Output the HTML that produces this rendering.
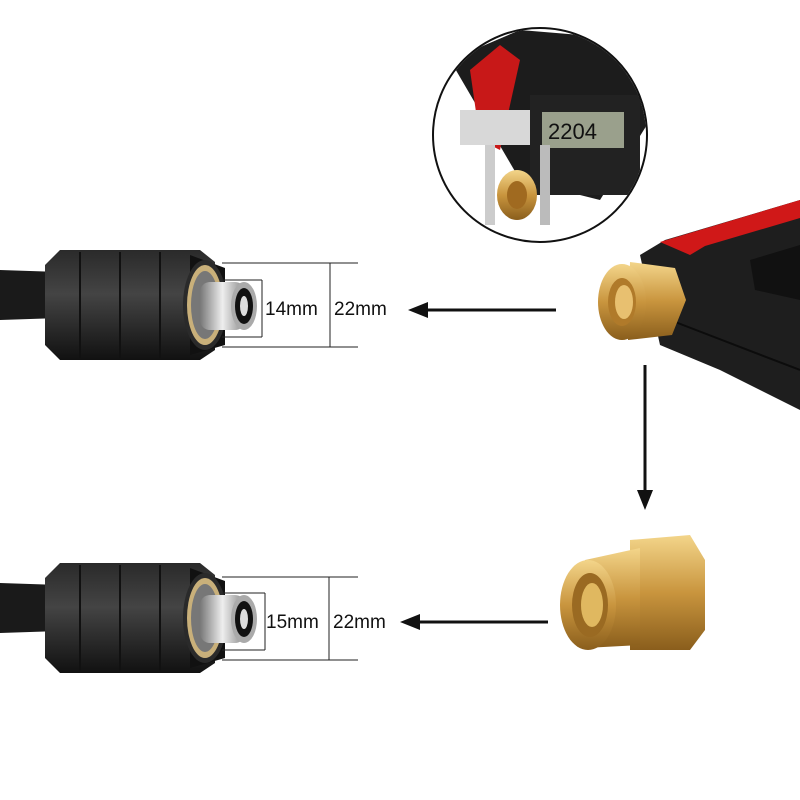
<!DOCTYPE html>
<html><head><meta charset="utf-8"><style>
html,body{margin:0;padding:0;background:#fff;}
svg{display:block}
text{font-family:"Liberation Sans",sans-serif;font-size:19px;fill:#111}
</style></head><body>
<svg width="800" height="800" viewBox="0 0 800 800">
<defs>
<linearGradient id="brass" x1="0" y1="0" x2="0" y2="1">
<stop offset="0" stop-color="#f3d58a"/><stop offset="0.5" stop-color="#c9953e"/><stop offset="1" stop-color="#8a5e1c"/>
</linearGradient>
<linearGradient id="nut" x1="0" y1="0" x2="0" y2="1">
<stop offset="0" stop-color="#2a2a2a"/><stop offset="0.4" stop-color="#444"/><stop offset="1" stop-color="#111"/>
</linearGradient>
<linearGradient id="metal" x1="0" y1="0" x2="1" y2="0">
<stop offset="0" stop-color="#777"/><stop offset="0.5" stop-color="#eee"/><stop offset="1" stop-color="#888"/>
</linearGradient>
<clipPath id="cc"><circle cx="540" cy="135" r="106"/></clipPath>
</defs>

<!-- gun body right -->
<path d="M640 255 L665 240 L800 200 L800 410 L720 370 L660 345 L650 300 Z" fill="#1e1e1e"/>
<path d="M660 242 L800 200 L800 218 L705 246 L690 255 Z" fill="#d01818"/>
<path d="M750 260 L800 245 L800 300 L755 290 Z" fill="#111"/>
<line x1="670" y1="320" x2="800" y2="370" stroke="#0c0c0c" stroke-width="2"/>
<!-- brass fitting top -->
<path d="M630 262 L675 268 L686 300 L672 335 L628 340 Z" fill="url(#brass)"/>
<ellipse cx="622" cy="302" rx="24" ry="38" fill="url(#brass)"/>
<ellipse cx="622" cy="302" rx="14" ry="24" fill="#b07a2a"/>
<ellipse cx="624" cy="302" rx="9" ry="17" fill="#e8c070"/>

<!-- circle inset -->
<g clip-path="url(#cc)">
<rect x="430" y="25" width="220" height="220" fill="#fff"/>
<path d="M450 60 L520 30 L640 40 L650 120 L600 200 L520 180 Z" fill="#1c1c1c"/>
<path d="M470 70 L500 45 L520 60 L500 150 L480 140 Z" fill="#c81818"/>
<rect x="460" y="110" width="90" height="35" fill="#d8d8d8"/>
<rect x="530" y="95" width="110" height="100" fill="#222"/>
<rect x="542" y="112" width="82" height="36" fill="#9aa08c"/>
<text x="548" y="139" style="font-size:22px;fill:#111">2204</text>
<rect x="485" y="145" width="10" height="80" fill="#ccc"/>
<rect x="540" y="145" width="10" height="80" fill="#bbb"/>
<ellipse cx="517" cy="195" rx="20" ry="25" fill="url(#brass)"/>
<ellipse cx="517" cy="195" rx="10" ry="14" fill="#a06a20"/>
</g>
<circle cx="540" cy="135" r="107" fill="none" stroke="#111" stroke-width="2"/>

<!-- top hose -->
<path d="M0 270 L60 272 L60 318 L0 320 Z" fill="#1a1a1a"/>
<path d="M45 265 L60 250 L200 250 L215 262 L215 350 L200 360 L60 360 L45 345 Z" fill="url(#nut)"/>
<g stroke="#111" stroke-width="2"><line x1="80" y1="252" x2="80" y2="358"/><line x1="120" y1="252" x2="120" y2="358"/><line x1="160" y1="252" x2="160" y2="358"/></g>
<path d="M190 255 L225 268 L225 345 L190 355 Z" fill="#111"/>
<ellipse cx="205" cy="305" rx="22" ry="45" fill="#2a2a2a"/>
<ellipse cx="205" cy="305" rx="18" ry="40" fill="#c9b07a"/>
<ellipse cx="205" cy="305" rx="14" ry="34" fill="#777"/>
<rect x="200" y="282" width="45" height="48" rx="10" fill="url(#metal)"/>
<ellipse cx="244" cy="306" rx="13" ry="24" fill="#aaa"/>
<ellipse cx="244" cy="306" rx="9" ry="18" fill="#111"/>
<ellipse cx="244" cy="306" rx="4" ry="10" fill="#ddd"/>

<g stroke="#222" stroke-width="1">
<line x1="222" y1="280" x2="262" y2="280"/><line x1="222" y1="337" x2="262" y2="337"/><line x1="262" y1="280" x2="262" y2="337"/>
<line x1="222" y1="263" x2="358" y2="263"/><line x1="222" y1="347" x2="358" y2="347"/><line x1="330" y1="263" x2="330" y2="347"/>
</g>
<text x="265" y="315">14mm</text>
<text x="334" y="315">22mm</text>

<!-- arrows -->
<line x1="556" y1="310" x2="420" y2="310" stroke="#111" stroke-width="3"/>
<path d="M408 310 L428 302 L428 318 Z" fill="#111"/>
<line x1="645" y1="365" x2="645" y2="498" stroke="#111" stroke-width="3"/>
<path d="M645 510 L637 490 L653 490 Z" fill="#111"/>
<line x1="548" y1="622" x2="412" y2="622" stroke="#111" stroke-width="3"/>
<path d="M400 622 L420 614 L420 630 Z" fill="#111"/>

<!-- bottom hose -->
<path d="M0 583 L60 585 L60 631 L0 633 Z" fill="#1a1a1a"/>
<path d="M45 578 L60 563 L200 563 L215 575 L215 663 L200 673 L60 673 L45 658 Z" fill="url(#nut)"/>
<g stroke="#111" stroke-width="2"><line x1="80" y1="565" x2="80" y2="671"/><line x1="120" y1="565" x2="120" y2="671"/><line x1="160" y1="565" x2="160" y2="671"/></g>
<path d="M190 568 L225 581 L225 658 L190 668 Z" fill="#111"/>
<ellipse cx="205" cy="618" rx="22" ry="45" fill="#2a2a2a"/>
<ellipse cx="205" cy="618" rx="18" ry="40" fill="#c9b07a"/>
<ellipse cx="205" cy="618" rx="14" ry="34" fill="#777"/>
<rect x="200" y="595" width="45" height="48" rx="10" fill="url(#metal)"/>
<ellipse cx="244" cy="619" rx="13" ry="24" fill="#aaa"/>
<ellipse cx="244" cy="619" rx="9" ry="18" fill="#111"/>
<ellipse cx="244" cy="619" rx="4" ry="10" fill="#ddd"/>

<g stroke="#222" stroke-width="1">
<line x1="222" y1="593" x2="265" y2="593"/><line x1="222" y1="650" x2="265" y2="650"/><line x1="265" y1="593" x2="265" y2="650"/>
<line x1="222" y1="577" x2="358" y2="577"/><line x1="222" y1="660" x2="358" y2="660"/><line x1="329" y1="577" x2="329" y2="660"/>
</g>
<text x="266" y="628">15mm</text>
<text x="333" y="628">22mm</text>

<!-- bottom adapter -->
<path d="M630 540 L690 535 L705 560 L705 630 L690 650 L630 650 Z" fill="url(#brass)"/>
<path d="M585 560 L640 548 L640 645 L585 648 Z" fill="url(#brass)"/>
<ellipse cx="588" cy="605" rx="28" ry="45" fill="url(#brass)"/>
<ellipse cx="590" cy="605" rx="18" ry="32" fill="#9a6a22"/>
<ellipse cx="592" cy="605" rx="11" ry="22" fill="#e0b860"/>
</svg>
</body></html>
